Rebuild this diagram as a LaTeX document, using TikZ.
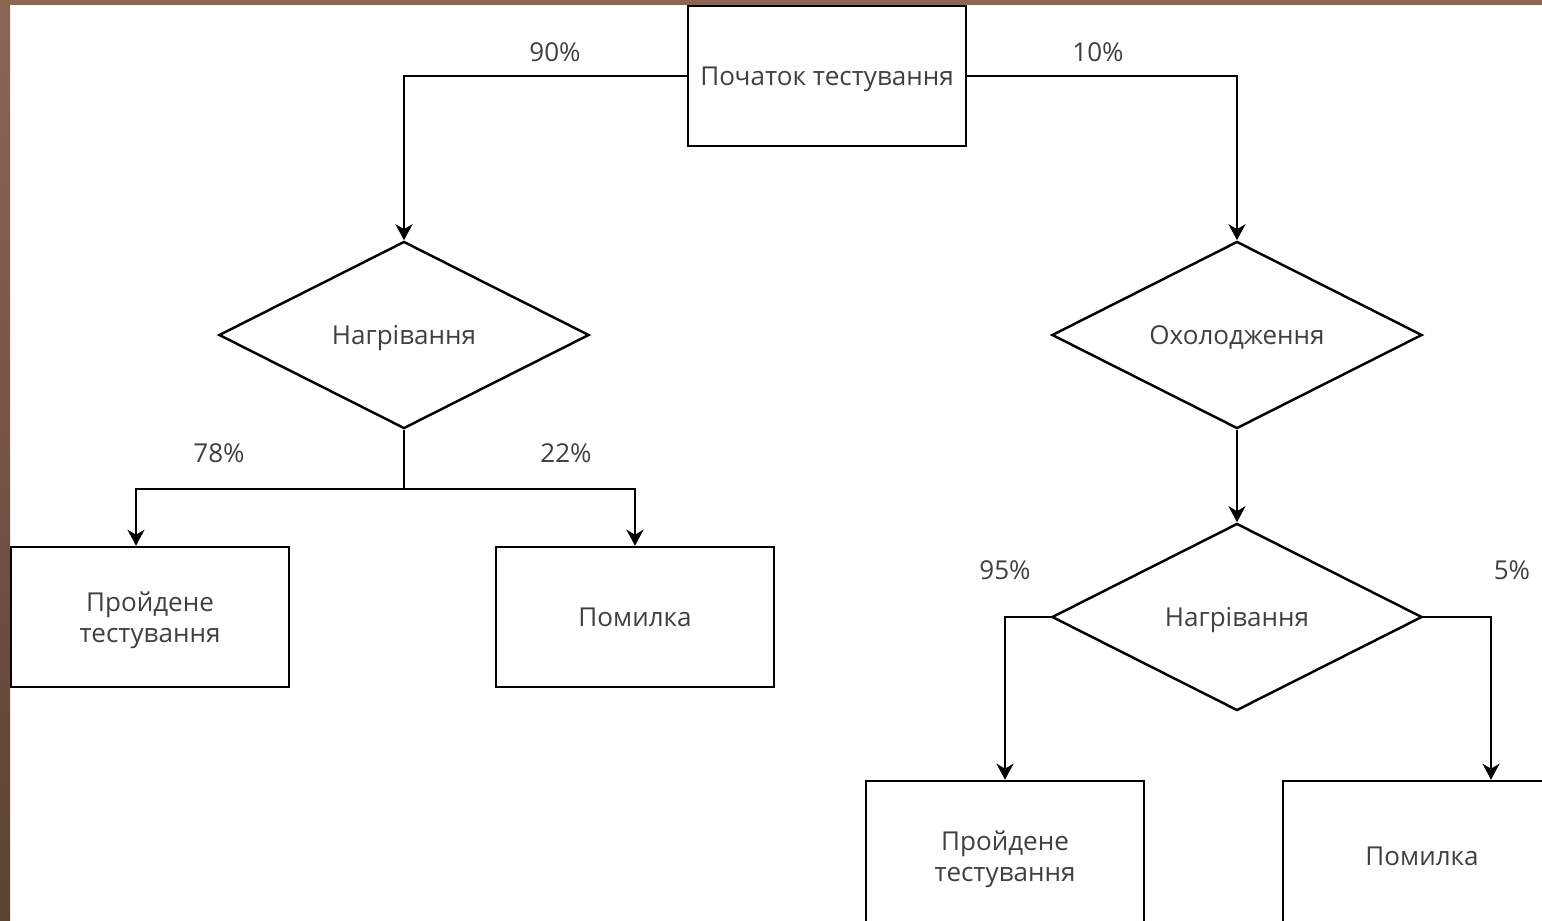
\documentclass[tikz,border=0pt]{standalone}
\usepackage{fontspec}
\setmainfont{Open Sans}
\usepackage{xcolor}
\usetikzlibrary{positioning,shapes.geometric,calc,arrows.meta}
\definecolor{frametop}{RGB}{140,102,85}
\definecolor{framebot}{RGB}{92,65,52}
\definecolor{txtgray}{RGB}{64,64,64}

\tikzset{
  block/.style={draw, line width=0.7pt, minimum width=2.78cm, minimum height=1.4cm,
    inner sep=0pt, align=center, text=txtgray, text depth=0pt},
  choice/.style={draw, diamond, line width=0.7pt, aspect=1.98, minimum width=3.7cm,
    minimum height=1.87cm, inner sep=0pt, text=txtgray, text depth=0pt},
  pct/.style={text=txtgray, inner sep=0pt},
  arr/.style={line width=0.7pt, -{Stealth[length=0.16cm, width=0.17cm, inset=0.05cm]}},
  line/.style={line width=0.7pt}
}

\begin{document}
\begin{tikzpicture}[x=0.01cm, y=-0.01cm, draw=black, font=\fontsize{7.4}{9}\selectfont]

  \useasboundingbox (0,0) rectangle (1542,921);
  \clip (0,0) rectangle (1542,921);
  \fill[white] (0,0) rectangle (1542,921);
  \fill[frametop] (0,0) rectangle (1542,5);
  \shade[top color=frametop, bottom color=framebot] (0,0) rectangle (10,921);

  \node[block] (start) at (827,76) {Початок тестування};

  \node[choice] (heat1) at (404,335) {Нагрівання};
  \node[choice] (cool)  at (1237,335) {Охолодження};
  \node[choice] (heat2) at (1237,617) {Нагрівання};

  \node[block] (pass1) at (150,617) {Пройдене\\тестування};
  \node[block] (fail1) at (635,617) {Помилка};
  \node[block, minimum height=1.5cm] (pass2) at (1005,856) {Пройдене\\тестування};
  \node[block, minimum height=1.5cm] (fail2) at (1422,856) {Помилка};

  \draw[arr] (start.west) -| (heat1.north);
  \draw[arr] (start.east) -| (cool.north);

  \draw[line] (heat1.south) -- ++(0,59) coordinate (split1);
  \draw[arr] (split1) -| ($(pass1.north)+(-14,0)$);
  \draw[arr] (split1) -| (fail1.north);

  \draw[arr] (cool.south) -- (heat2.north);
  \draw[arr] (heat2.west) -| (pass2.north);
  \draw[arr] (heat2.east) -| ($(fail2.north)+(69,0)$);

  \node[pct] (p90) at (555,52) {90\%};
  \node[pct] (p10) at (1098,52) {10\%};
  \node[pct] (p78) at (219,453) {78\%};
  \node[pct] (p22) at (566,453) {22\%};
  \node[pct] (p95) at (1005,570) {95\%};
  \node[pct] (p5)  at (1512,570) {5\%};
\end{tikzpicture}
\end{document}
